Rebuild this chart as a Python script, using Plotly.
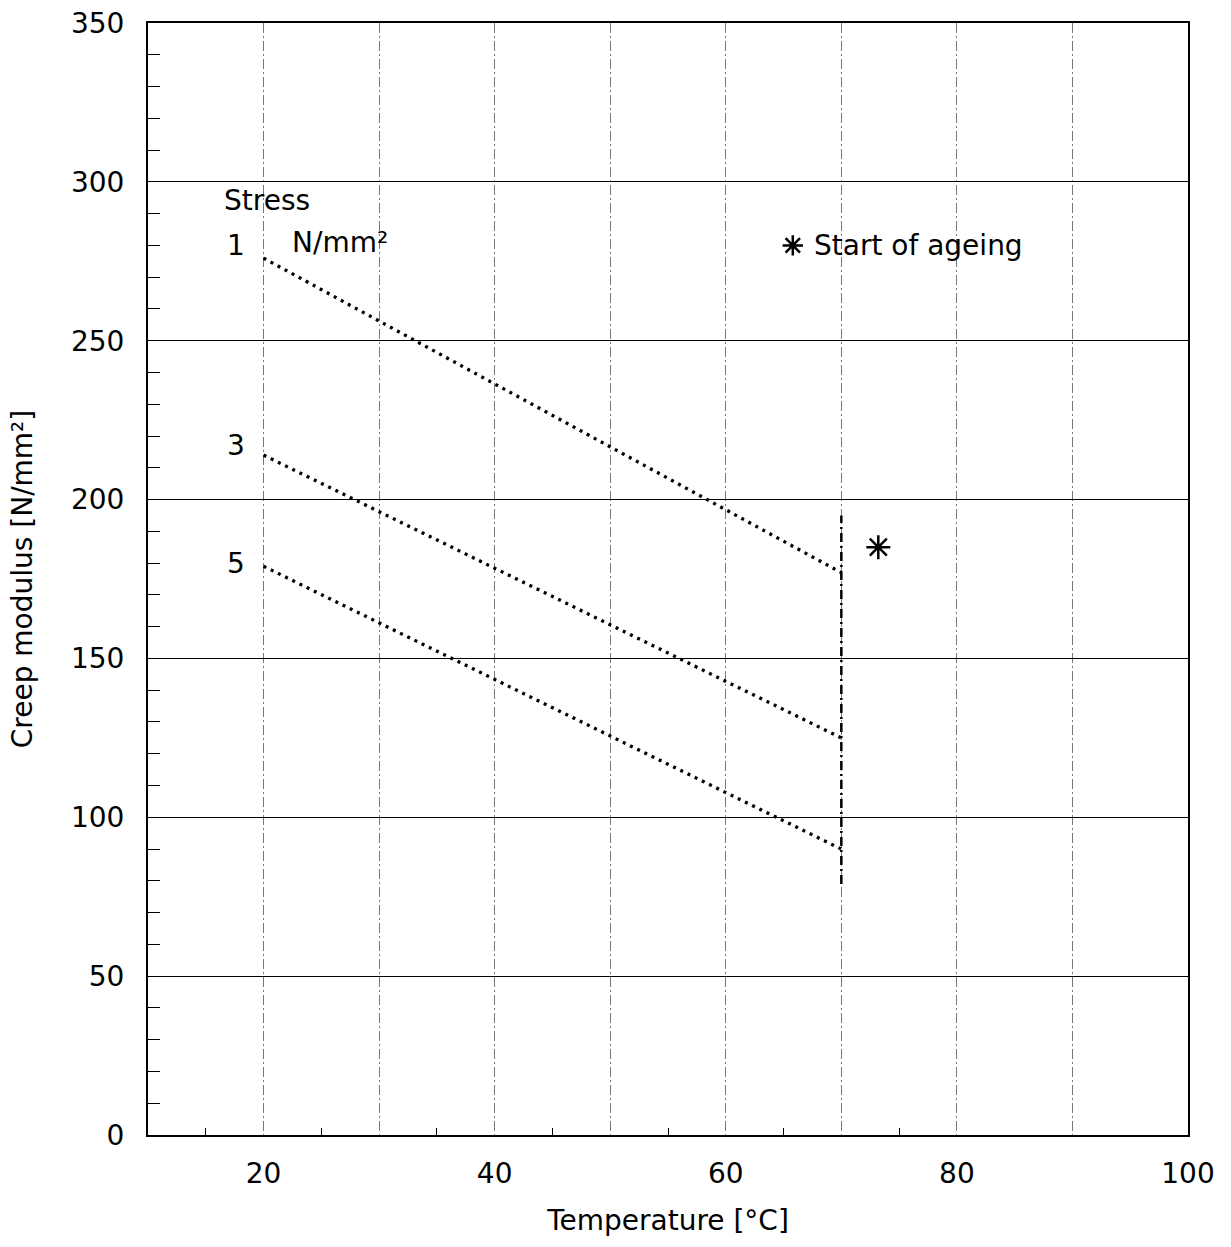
import plotly.graph_objects as go

# ---- data ----
temperature = [20, 70]
stress_labels = ["1", "3", "5"]
modulus_stress_1 = [276, 177]
modulus_stress_3 = [214, 125]
modulus_stress_5 = [179, 90]
label_y = [280, 217, 180]

ageing_temp = [70, 70]
ageing_span = [79, 195]
ageing_star_x = [73.2]
ageing_star_y = [185]
key_star_x = [65.8]
key_star_y = [280]

x_ticks = [20, 40, 60, 80, 100]
x_minor_ticks = [15, 25, 35, 45, 55, 65, 75]
y_ticks = [0, 50, 100, 150, 200, 250, 300, 350]

FONT = "DejaVu Sans"
fig = go.Figure()

dot_style = dict(color="black", width=3.3, dash="3px,5px")
for vals in (modulus_stress_1, modulus_stress_3, modulus_stress_5):
    fig.add_trace(go.Scatter(x=temperature, y=vals, mode="lines", line=dot_style,
                             showlegend=False, hoverinfo="skip"))

fig.add_trace(go.Scatter(x=ageing_temp, y=ageing_span, mode="lines",
                         line=dict(color="black", width=2.5, dash="9px,4px,2px,4px"),
                         showlegend=False, hoverinfo="skip"))

fig.add_trace(go.Scatter(x=ageing_star_x, y=ageing_star_y, mode="markers",
                         marker=dict(symbol="asterisk-open", size=20, color="black",
                                     line=dict(color="black", width=2.5)),
                         showlegend=False, hoverinfo="skip"))
# key asterisk
fig.add_trace(go.Scatter(x=key_star_x, y=key_star_y, mode="markers",
                         marker=dict(symbol="asterisk-open", size=17, color="black",
                                     line=dict(color="black", width=2.5)),
                         showlegend=False, hoverinfo="skip"))

# invisible trace so that the secondary (minor tick) x axis is drawn
fig.add_trace(go.Scatter(x=x_minor_ticks, y=[None] * len(x_minor_ticks), xaxis="x2",
                         mode="markers", showlegend=False, hoverinfo="skip"))

annos = []
for lab, yy in zip(stress_labels, label_y):
    annos.append(dict(x=17.6, y=yy, text=lab, showarrow=False, xanchor="center",
                      yanchor="middle", font=dict(size=28, color="black", family=FONT)))
annos.append(dict(x=16.4, y=294, text="Stress", showarrow=False, xanchor="left",
                  yanchor="middle", font=dict(size=28, color="black", family=FONT)))
annos.append(dict(x=22.3, y=281, text="N/mm²", showarrow=False, xanchor="left",
                  yanchor="middle", font=dict(size=28, color="black", family=FONT)))
annos.append(dict(x=67.5, y=280, text="Start of ageing", showarrow=False, xanchor="left",
                  yanchor="middle", font=dict(size=28, color="black", family=FONT)))

grid_dash = "10px,3px,2px,3px"
fig.update_layout(
    width=1231, height=1247, autosize=False,
    margin=dict(l=148, r=43, t=23, b=112),
    paper_bgcolor="white", plot_bgcolor="white",
    font=dict(family=FONT, size=28, color="black"),
    annotations=annos,
    xaxis=dict(
        range=[10, 100], tickvals=x_ticks, ticks="", automargin=False,
        showgrid=True, gridcolor="#777", gridwidth=1, griddash=grid_dash,
        minor=dict(dtick=10, tick0=10, showgrid=True, gridcolor="#777",
                   gridwidth=1, griddash=grid_dash, ticks=""),
        showline=True, mirror=True, linecolor="black", linewidth=2,
        zeroline=False, tickfont=dict(size=28, family=FONT),
        ticklabelstandoff=12,
        title=dict(text="Temperature [°C]", font=dict(size=28, family=FONT), standoff=22),
    ),
    xaxis2=dict(
        range=[10, 100], overlaying="x", anchor="y", side="bottom", automargin=False,
        tickvals=x_minor_ticks, ticks="inside", ticklen=7, tickwidth=1.3,
        tickcolor="black", showticklabels=False, showgrid=False,
        showline=False, zeroline=False,
    ),
    yaxis=dict(
        range=[0, 350], tickvals=y_ticks, ticks="inside", ticklen=12, automargin=False,
        tickwidth=1.3, tickcolor="black",
        showgrid=True, gridcolor="black", gridwidth=1.3,
        minor=dict(dtick=10, tick0=0, ticks="inside", ticklen=12,
                   tickwidth=1.3, tickcolor="black", showgrid=False),
        showline=True, mirror=True, linecolor="black", linewidth=2,
        zeroline=False, tickfont=dict(size=28, family=FONT),
        ticklabelstandoff=16,
        title=dict(text="Creep modulus [N/mm²]", font=dict(size=28, family=FONT), standoff=30),
    ),
)

fig.write_html("out.html")
